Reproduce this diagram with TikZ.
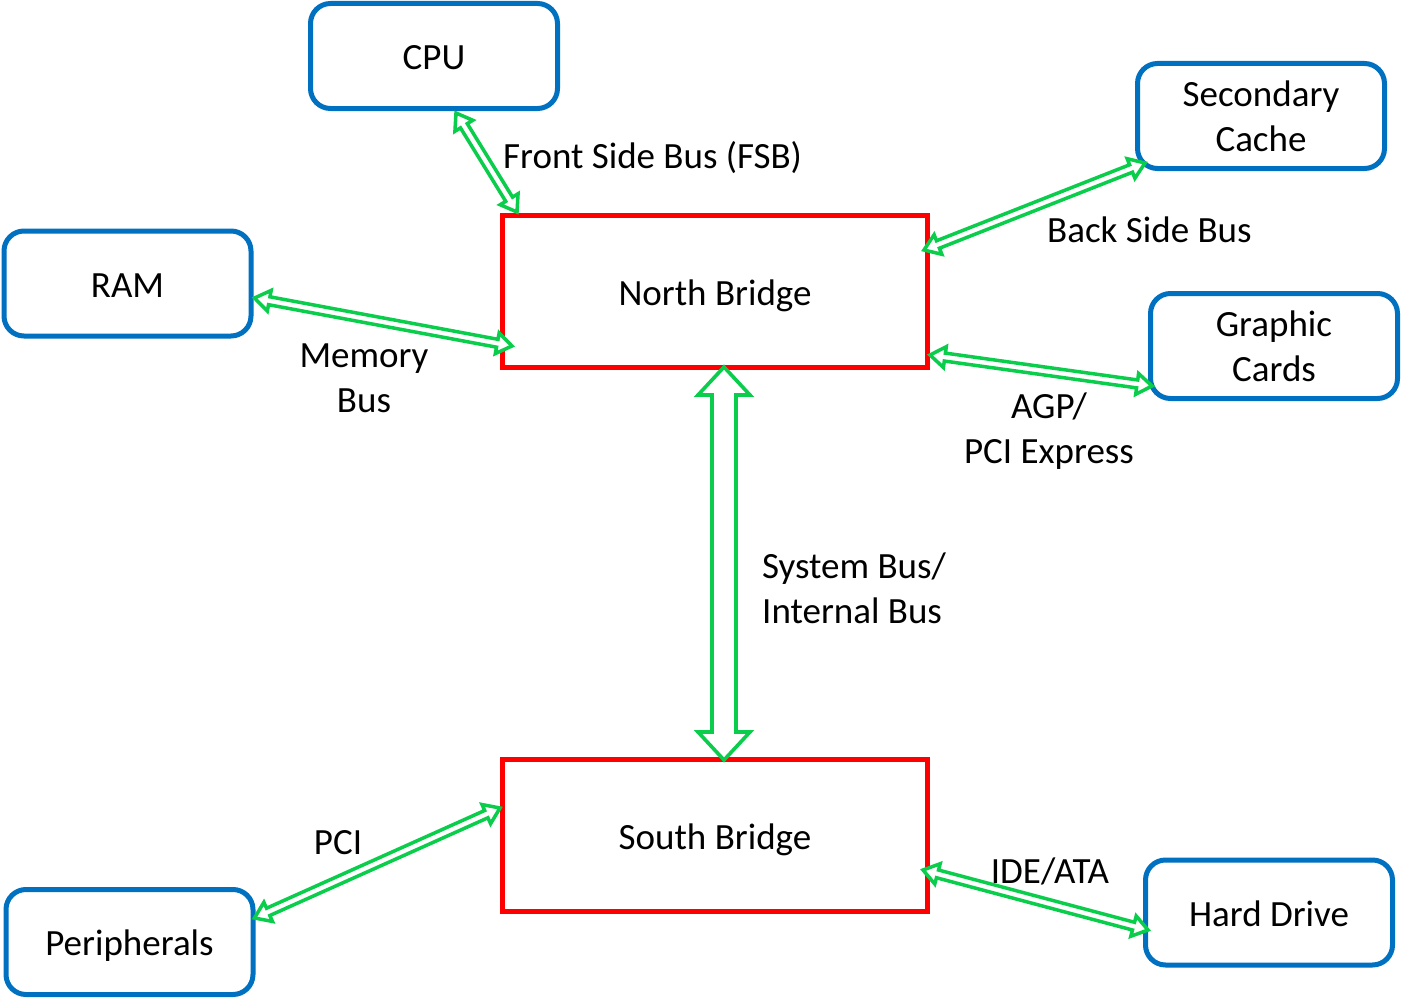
\documentclass[tikz,border=0pt]{standalone}
\usepackage{fontspec}
\setmainfont{Carlito}
\usetikzlibrary{calc}
\definecolor{boxblue}{RGB}{0,112,192}
\definecolor{busgreen}{RGB}{10,205,75}
\tikzset{
  every node/.style={font=\fontsize{37}{45}\selectfont, text=black},
  unit/.style={draw=boxblue, line width=5pt, rounded corners=20pt, minimum width=247pt, minimum height=105pt, align=center, fill=white, inner sep=0pt},
  bridge/.style={draw=red, line width=5pt, minimum width=425pt, minimum height=152pt, fill=white},
  oneline/.style={text height=33pt, text depth=6pt},
  busline/.style={draw=busgreen, line width=3.5pt, fill=white, line join=miter},
  lbl/.style={inner sep=0pt, align=center},
}
% #1 A, #2 B, #3 shaft half width, #4 head half width, #5 head length, #6 extra style
\newcommand\busarrow[6]{%
  \coordinate (ba) at ($(#1)!#5!(#2)$);
  \coordinate (bb) at ($(#2)!#5!(#1)$);
  \draw[busline,#6] (#1) -- ($(ba)!#4!90:(#2)$) -- ($(ba)!#3!90:(#2)$)
    -- ($(bb)!#3!-90:(#1)$) -- ($(bb)!#4!-90:(#1)$) -- (#2)
    -- ($(bb)!#4!90:(#1)$) -- ($(bb)!#3!90:(#1)$)
    -- ($(ba)!#3!-90:(#2)$) -- ($(ba)!#4!-90:(#2)$) -- cycle;
}
\begin{document}
\begin{tikzpicture}[x=1pt,y=-1pt]
\useasboundingbox[fill=white] (0,0) rectangle (1401,998);

% boxes
\node[unit, oneline] (cpu) at (434,56) {CPU};
\node[unit] (sc) at (1261,116) {Secondary\\Cache};
\node[unit, oneline] (ram) at (127.5,283.5) {RAM};
\node[unit] (gc) at (1274,346) {Graphic\\Cards};
\node[unit, oneline] (per) at (129.5,942) {Peripherals};
\node[unit, oneline] (hd) at (1269,912.5) {Hard Drive};
\node[bridge, oneline] (nb) at (715,291.5) {North Bridge};
\node[bridge, oneline] (sb) at (715,835.5) {South Bridge};

% connector end points
\coordinate (fsbA) at ($(cpu.south)+(22,2)$);
\coordinate (fsbB) at ($(nb.north west)+(17,-1)$);
\coordinate (bsbA) at ($(nb.north east)+(-6,37)$);
\coordinate (bsbB) at ($(sc.south west)+(10,-8)$);
\coordinate (memA) at ($(ram.east)+(1,14.5)$);
\coordinate (memB) at ($(nb.south west)+(12,-24)$);
\coordinate (agpA) at ($(nb.south east)+(0,-15)$);
\coordinate (agpB) at ($(gc.south west)+(4,-15)$);
\coordinate (sysA) at ($(nb.south)+(9,-3)$);
\coordinate (sysB) at ($(sb.north)+(9,3)$);
\coordinate (pciA) at ($(per.north east)+(-1,31)$);
\coordinate (pciB) at ($(sb.west)+(0,-27.5)$);
\coordinate (ideA) at ($(sb.east)+(-7,34.5)$);
\coordinate (ideB) at ($(hd.west)+(5,17.5)$);

% buses
\busarrow{fsbA}{fsbB}{4pt}{10.5pt}{15pt}{}
\busarrow{bsbA}{bsbB}{4pt}{10.5pt}{15pt}{}
\busarrow{memA}{memB}{4pt}{10.5pt}{15pt}{}
\busarrow{agpA}{agpB}{4pt}{10.5pt}{15pt}{}
\busarrow{pciA}{pciB}{4pt}{10.5pt}{15pt}{}
\busarrow{ideA}{ideB}{4pt}{10.5pt}{15pt}{}
\busarrow{sysA}{sysB}{12pt}{26pt}{28pt}{line width=3.6pt}

% labels
\node[lbl, anchor=west] (lfsb) at (503,158) {Front Side Bus (FSB)};
\node[lbl, anchor=west] (lbsb) at (1047,230) {Back Side Bus};
\node[lbl] (lmem) at (364,378) {Memory\\Bus};
\node[lbl] (lagp) at (1049,431) {AGP/\\PCI Express};
\node[lbl, anchor=west, align=left] (lsys) at (762,588) {System Bus/\\Internal Bus};
\node[lbl] (lpci) at (338,843) {PCI};
\node[lbl] (lide) at (1050,871) {IDE/ATA};
\end{tikzpicture}
\end{document}
